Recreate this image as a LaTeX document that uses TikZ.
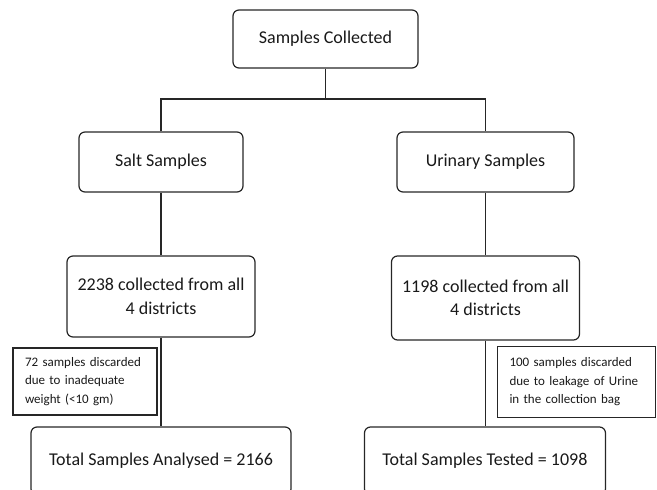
\documentclass[tikz,border=0pt]{standalone}
\usepackage{fontspec}
\setmainfont{Carlito}
\begin{document}
\begin{tikzpicture}[x=1pt,y=-1pt,
  line width=1.2pt,
  rbox/.style={draw=black!85, rounded corners=6pt, inner sep=0pt, align=center, font=\fontsize{18}{23.5}\selectfont, text=black!90},
  nbox/.style={draw=black!85, inner sep=0pt, align=left, font=\fontsize{13}{18.5}\selectfont, text=black!90, text width=#1},
  conn/.style={draw=black!85, line width=1.2pt}
]
\clip (0,0) rectangle (657,490);
\node[rbox, minimum width=185pt, minimum height=58pt] (top) at (325.5,39) {Samples Collected};
\node[rbox, minimum width=164pt, minimum height=60pt] (salt) at (161,162) {Salt Samples};
\node[rbox, minimum width=177pt, minimum height=60pt] (urin) at (485.5,162) {Urinary Samples};
\node[rbox, minimum width=188pt, minimum height=81pt] (sc) at (161,296.5) {2238 collected from all\\4 districts};
\node[rbox, minimum width=188pt, minimum height=84pt] (uc) at (485.5,298) {1198 collected from all\\4 districts};
\node[rbox, minimum width=260pt, minimum height=68pt] (sa) at (161,461) {Total Samples Analysed = 2166};
\node[rbox, minimum width=241pt, minimum height=68pt] (ut) at (485,461) {Total Samples Tested = 1098};
\node[nbox=120pt, minimum width=144pt, minimum height=67pt] (sd) at (85,381.5) {72 samples discarded\\due to inadequate\\weight (<10 gm)};
\node[nbox=134pt, minimum width=158pt, minimum height=71pt] (ud) at (576.5,382) {100 samples discarded\\due to leakage of Urine\\in the collection bag};
\coordinate (j) at (325.5,99);
\draw[conn] (top.south) -- (j);
\draw[conn] (salt.north) |- (j) -| (urin.north);
\draw[conn] (salt.south) -- (sc.north);
\draw[conn] (urin.south) -- (uc.north);
\draw[conn] (sc.south) -- (sc.south |- sa.north);
\draw[conn] (uc.south) -- (uc.south |- ut.north);
\end{tikzpicture}
\end{document}
